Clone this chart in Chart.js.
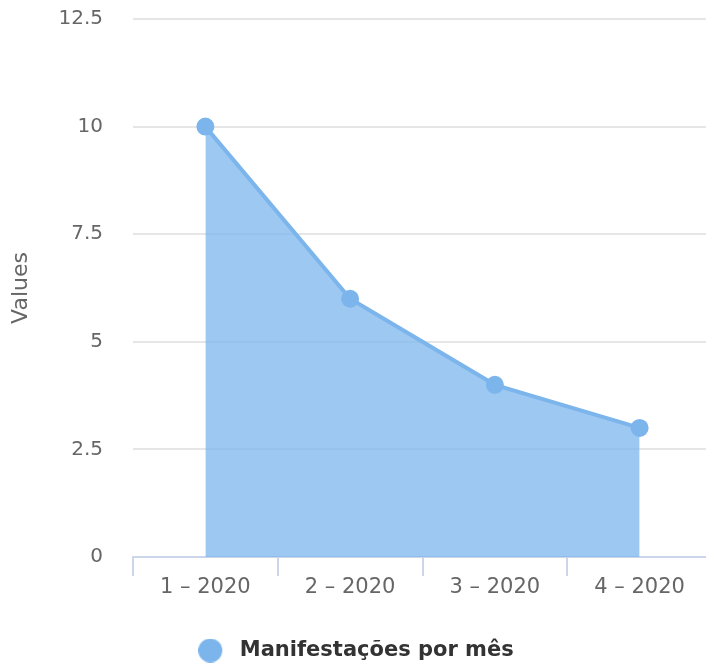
<!DOCTYPE html>
<html>
<head>
<meta charset="utf-8">
<script src="https://cdn.jsdelivr.net/npm/chart.js@4"></script>
<style>
  html, body { margin: 0; padding: 0; overflow: hidden; background: #fff; }
  canvas { display: block; }
</style>
</head>
<body>
<canvas id="chart" width="712" height="671"></canvas>
<script>
const categories = ['1 – 2020', '2 – 2020', '3 – 2020', '4 – 2020'];
const values = [10, 6, 4, 3];
const seriesName = 'Manifestações por mês';

const lineColor = '#7cb5ec';
const fontFamily = '"DejaVu Sans", Verdana, sans-serif';

// legend marker: circle on the left of a wider box, so the text sits further away
const legendMarker = document.createElement('canvas');
legendMarker.width = 31;
legendMarker.height = 24;
(function () {
    const c = legendMarker.getContext('2d');
    c.fillStyle = lineColor;
    c.beginPath();
    c.arc(12, 12, 12, 0, Math.PI * 2);
    c.fill();
})();

new Chart(document.getElementById('chart'), {
    type: 'line',
    data: {
        labels: categories,
        datasets: [{
            label: seriesName,
            data: values,
            borderColor: lineColor,
            backgroundColor: 'rgba(124,181,236,0.75)',
            pointBackgroundColor: lineColor,
            pointBorderColor: lineColor,
            borderWidth: 4,
            pointRadius: 7,
            fill: 'origin',
            tension: 0
        }]
    },
    options: {
        responsive: false,
        animation: false,
        layout: { autoPadding: false, padding: { top: 19, left: 0, right: 0, bottom: 0 } },
        plugins: {
            tooltip: { enabled: false },
            legend: {
                position: 'bottom',
                labels: {
                    usePointStyle: true,
                    pointStyle: legendMarker,
                    pointStyleWidth: 31,
                    boxHeight: 17,
                    padding: 12,
                    color: '#333',
                    font: { family: fontFamily, size: 21, weight: 'bold' }
                }
            }
        },
        scales: {
            x: {
                offset: true,
                border: { color: '#ccd6eb', width: 2 },
                grid: {
                    offset: true,
                    drawOnChartArea: false,
                    drawTicks: true,
                    tickLength: 19,
                    color: '#ccd6eb',
                    lineWidth: 2
                },
                ticks: {
                    color: '#666',
                    padding: -1,
                    maxRotation: 0,
                    font: { family: fontFamily, size: 21 }
                },
                afterFit: (scale) => { scale.height = 71; }
            },
            y: {
                min: 0,
                max: 12.5,
                border: { display: false },
                grid: { color: '#e6e6e6', lineWidth: 2, drawTicks: false },
                ticks: {
                    stepSize: 2.5,
                    padding: 30,
                    color: '#666',
                    font: { family: fontFamily, size: 20 }
                },
                title: {
                    display: true,
                    text: 'Values',
                    color: '#666',
                    padding: { top: 8, bottom: 0 },
                    font: { family: fontFamily, size: 22 }
                },
                afterFit: (scale) => {
                    scale.width = 133;
                    scale.paddingTop = 0;
                    scale.paddingBottom = 0;
                }
            }
        }
    }
});
</script>
</body>
</html>
